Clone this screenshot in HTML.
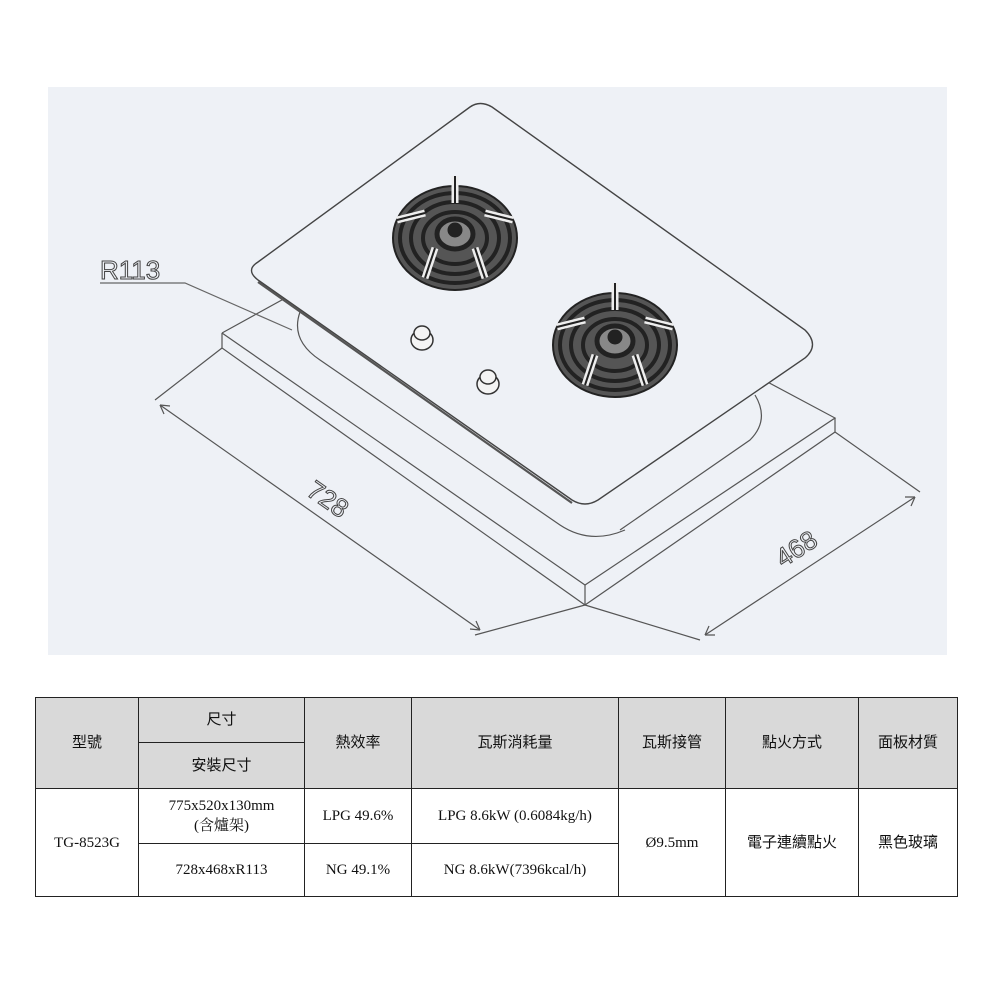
<!DOCTYPE html>
<html><head><meta charset="utf-8"><style>
body{margin:0;width:1000px;height:1000px;background:#fff;position:relative;font-family:"Liberation Serif","Noto Serif CJK SC","Noto Sans CJK TC",serif;}
svg{position:absolute;left:0;top:0}
table{position:absolute;left:35px;top:697px;border-collapse:collapse;width:923px;}
td{border:1px solid #222;text-align:center;font-size:15px;color:#111;padding:0;line-height:20px}
.h{background:#d9d9d9;font-family:"Liberation Sans","Noto Sans CJK TC",sans-serif;}
</style></head><body>
<svg width="1000" height="690" viewBox="0 0 1000 690">
<rect x="48" y="87" width="899" height="568" fill="#eef1f6"/>
<g fill="none" stroke="#555" stroke-width="1.2">
<path d="M222,333 L300,290 M222,333 L585,585 L835,418 L760,378"/>
<path d="M222,333 L222,348 L585,605 L835,432 L835,418"/>
<path d="M585,585 L585,605"/>
<path d="M300,312 Q290,340 320,360 L560,525 Q590,545 625,530"/>
<path d="M755,395 Q770,420 750,440 L620,530"/>
<path d="M160,405 L480,630 M222,348 L155,400 M585,605 L475,635"/>
<path d="M160,405 l10,1 M160,405 l4,9 M480,630 l-10,-1 M480,630 l-4,-9"/>
<path d="M705,635 L915,497 M835,432 L920,492 M585,605 L700,640"/>
<path d="M705,635 l4,-9 M705,635 l10,0 M915,497 l-4,9 M915,497 l-10,0"/>
<path d="M100,283 L185,283 L292,330" stroke="#666"/>
</g>
<path d="M470,107 Q480,100 492,107 L805,330 Q820,345 805,358 L598,500 Q585,508 572,500 L258,280 Q245,270 258,262 Z" fill="#eef1f6" stroke="#444" stroke-width="1.4"/>
<path d="M258,282 L572,503" stroke="#555" stroke-width="2.2"/>
<g fill="none" stroke="#222">
<g transform="translate(455,238)">
<ellipse rx="62" ry="52" fill="#555" stroke-width="2"/>
<ellipse rx="55" ry="45" stroke-width="4"/>
<ellipse rx="44" ry="36" stroke-width="4"/>
<ellipse rx="32" ry="26" stroke-width="4"/>
<ellipse cy="-4" rx="18" ry="15" stroke-width="5" fill="#888"/>
<circle cy="-8" r="7" fill="#222"/>
<path d="M-58,-18 L-30,-25 M58,-18 L30,-25 M0,-62 L0,-35 M-30,40 L-20,10 M30,40 L20,10" stroke="#eee" stroke-width="7"/>
<path d="M-58,-18 L-30,-25 M58,-18 L30,-25 M0,-62 L0,-35 M-30,40 L-20,10 M30,40 L20,10" stroke-width="2"/>
</g>
<g transform="translate(615,345)">
<ellipse rx="62" ry="52" fill="#555" stroke-width="2"/>
<ellipse rx="55" ry="45" stroke-width="4"/>
<ellipse rx="44" ry="36" stroke-width="4"/>
<ellipse rx="32" ry="26" stroke-width="4"/>
<ellipse cy="-4" rx="18" ry="15" stroke-width="5" fill="#888"/>
<circle cy="-8" r="7" fill="#222"/>
<path d="M-58,-18 L-30,-25 M58,-18 L30,-25 M0,-62 L0,-35 M-30,40 L-20,10 M30,40 L20,10" stroke="#eee" stroke-width="7"/>
<path d="M-58,-18 L-30,-25 M58,-18 L30,-25 M0,-62 L0,-35 M-30,40 L-20,10 M30,40 L20,10" stroke-width="2"/>
</g>
</g>
<g fill="#f4f4f4" stroke="#333" stroke-width="1.5">
<ellipse cx="422" cy="340" rx="11" ry="10"/><ellipse cx="422" cy="333" rx="8" ry="7"/>
<ellipse cx="488" cy="384" rx="11" ry="10"/><ellipse cx="488" cy="377" rx="8" ry="7"/>
</g>
<g font-family="Liberation Sans, sans-serif" font-size="26" fill="#eef1f6" stroke="#444" stroke-width="1">
<text x="100" y="279">R113</text>
<text x="0" y="0" transform="translate(305,494) rotate(35)">728</text>
<text x="0" y="0" transform="translate(783,568) rotate(-33)">468</text>
</g>
</svg>
<table>
<tr style="height:45px"><td class="h" rowspan="2" style="width:102px">型號</td><td class="h" style="width:165px">尺寸</td><td class="h" rowspan="2" style="width:106px">熱效率</td><td class="h" rowspan="2" style="width:206px">瓦斯消耗量</td><td class="h" rowspan="2" style="width:106px">瓦斯接管</td><td class="h" rowspan="2" style="width:132px">點火方式</td><td class="h" rowspan="2">面板材質</td></tr>
<tr style="height:46px"><td class="h">安裝尺寸</td></tr>
<tr style="height:55px"><td rowspan="2">TG-8523G</td><td>775x520x130mm<br>(含爐架)</td><td>LPG 49.6%</td><td>LPG 8.6kW (0.6084kg/h)</td><td rowspan="2">Ø9.5mm</td><td rowspan="2" style="font-family:'Liberation Sans','Noto Sans CJK TC',sans-serif">電子連續點火</td><td rowspan="2" style="font-family:'Liberation Sans','Noto Sans CJK TC',sans-serif">黑色玻璃</td></tr>
<tr style="height:53px"><td>728x468xR113</td><td>NG 49.1%</td><td>NG 8.6kW(7396kcal/h)</td></tr>
</table>
</body></html>
